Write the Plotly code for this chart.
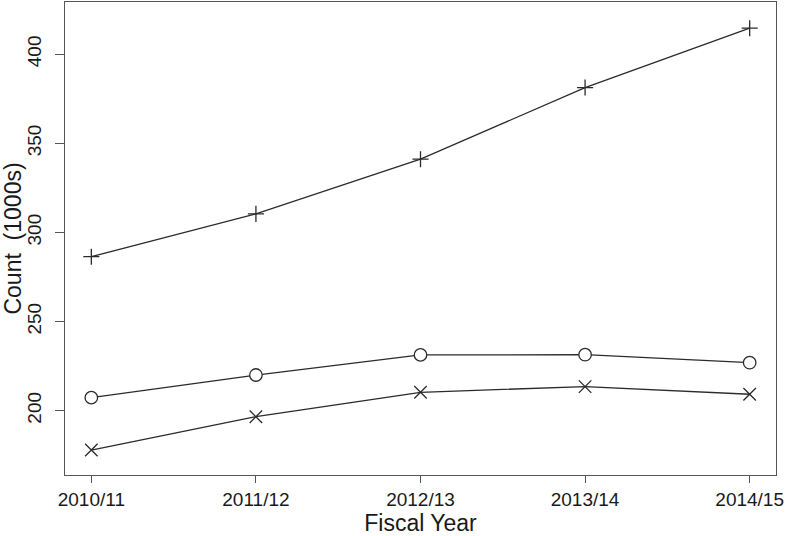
import plotly.graph_objects as go

## data
years = ["2010/11", "2011/12", "2012/13", "2013/14", "2014/15"]
plus_counts = [286.4, 310.4, 341.1, 381.3, 414.6]
circle_counts = [207.3, 220.0, 231.3, 231.4, 226.9]
cross_counts = [177.9, 196.6, 210.3, 213.5, 209.2]
y_ticks = [200, 250, 300, 350, 400]

ink = "#2b2b2b"
xpos = list(range(1, len(years) + 1))

fig = go.Figure()

## one trace per series, R-style point symbols
series = [
    (plus_counts, "cross-thin-open", 11.5, ink),
    (circle_counts, "circle", 12.5, "white"),
    (cross_counts, "x-thin-open", 12.5, ink),
]
for vals, sym, sz, fill in series:
    fig.add_trace(go.Scatter(
        x=xpos, y=vals, mode="lines+markers",
        line=dict(color=ink, width=1.3),
        marker=dict(symbol=sym, size=sz, color=fill,
                    line=dict(color=ink, width=1.3)),
        showlegend=False, hoverinfo="skip"))

font = dict(family="Liberation Sans, Arial, sans-serif", size=19, color="#1a1a1a")

fig.update_layout(
    width=787, height=536, autosize=False,
    margin=dict(l=65, r=11, t=2, b=61),
    paper_bgcolor="white", plot_bgcolor="white",
    font=font,
)
fig.update_xaxes(
    range=[0.84, 5.16], tickmode="array", tickvals=xpos, ticktext=years,
    showgrid=False, zeroline=False, automargin=False,
    showline=True, mirror=True, linecolor="#555555", linewidth=1.3,
    ticks="outside", ticklen=7, tickwidth=1.1, tickcolor="#555555",
    title=dict(text="Fiscal Year", standoff=2),
)
fig.update_yaxes(
    range=[163.9, 429.3], tickmode="array", tickvals=y_ticks,
    tickangle=-90, showgrid=False, zeroline=False, automargin=False,
    showline=True, mirror=True, linecolor="#555555", linewidth=1.3,
    ticks="outside", ticklen=9, tickwidth=1.1, tickcolor="#555555",
    ticklabelstandoff=6,
    title=dict(text="Count \u00a0(1000s)", standoff=8),
)

## page body has an 8px margin by default, drop it so the figure fits the window
fig.write_html("out.html", config={"displayModeBar": False},
               post_script="document.body.style.margin='0';")
